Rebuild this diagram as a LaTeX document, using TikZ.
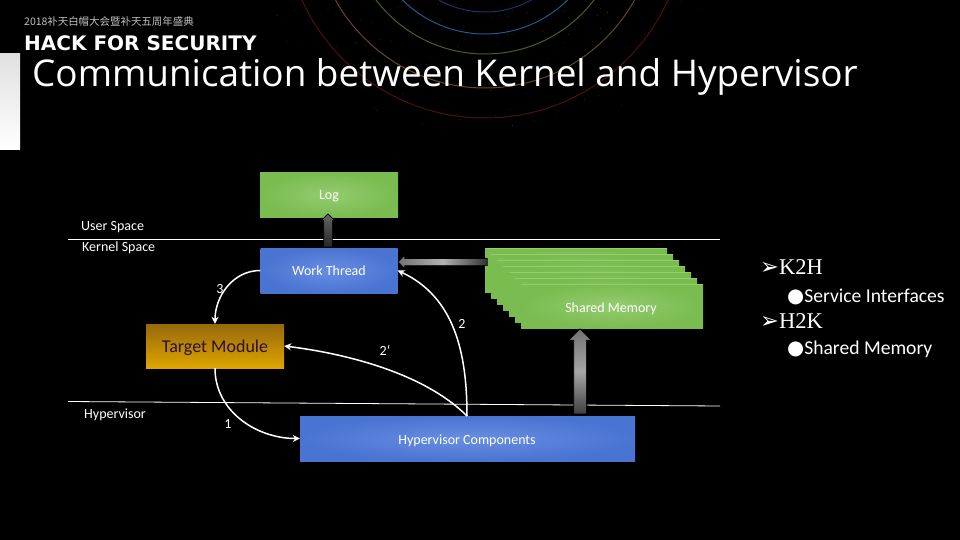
\documentclass[tikz,border=0pt]{standalone}
\usepackage{fontspec}
\setmainfont{Carlito}
\newfontfamily\titlefont{Open Sans}
\newfontfamily\bannerfont{DejaVu Sans}
\newfontfamily\cjkfont{Noto Sans CJK SC}
\newfontfamily\serifpart{Liberation Serif}
\usetikzlibrary{
  arrows.meta,
  shapes.arrows,
  calc,
  positioning
}
\definecolor{boxgreen}{RGB}{122,188,80}
\definecolor{boxgreenlt}{RGB}{148,204,112}
\definecolor{boxblue}{RGB}{74,116,210}
\definecolor{boxbluelt}{RGB}{104,142,226}
\definecolor{targettop}{RGB}{150,105,10}
\definecolor{targetbot}{RGB}{222,165,0}
\definecolor{targetink}{RGB}{45,15,40}
\definecolor{arcred}{RGB}{75,18,15}
\definecolor{arcorange}{RGB}{100,72,30}
\definecolor{arcgreen}{RGB}{68,98,40}
\definecolor{arcblue}{RGB}{30,92,140}
\definecolor{arcdeep}{RGB}{25,50,115}
\newcommand{\markarrow}{{\bannerfont ➢}}
\newcommand{\markdot}{{\bannerfont ●}}
\begin{document}
\begin{tikzpicture}[
      x=1pt,y=-1pt,
      >={Stealth[length=7pt,width=7pt]},
      greenbox/.style={
         rectangle,
         inner sep=0pt,
         draw=none,
         inner color=boxgreenlt,
         outer color=boxgreen,
         text=white,
         font=\fontsize{14}{16}\selectfont,
      },
      bluebox/.style={
         rectangle,
         inner sep=0pt,
         inner color=boxbluelt,
         outer color=boxblue,
         text=white,
         font=\fontsize{14}{16}\selectfont,
      },
      targetbox/.style={
         rectangle,
         inner sep=0pt,
         top color=targettop,
         bottom color=targetbot,
         font=\fontsize{18}{20}\selectfont,
      },
      plainlabel/.style={
         text=white,
         inner sep=0pt,
         font=\fontsize{14}{16}\selectfont,
      },
      sidelabel/.style={
         text=white,
         inner sep=0pt,
         anchor=west,
      },
      flow/.style={->,white,line width=1.5pt},
      spaceline/.style={white,line width=0.8pt},
      greyarrow/.style={
         single arrow,
         draw=black,
         line width=0.6pt,
         shape border rotate=#1,
      },
      arcline/.style={line width=1pt,draw=#1},
    ]
    \fill[black] (0,0) rectangle (960,540);
    % arcs behind the title
    \begin{scope}
      \clip (0,0) rectangle (960,130);
      \pgfmathsetseed{3}
      \foreach \n in {1,...,500} {
        \pgfmathsetmacro{\ang}{rnd*360}
        \pgfmathsetmacro{\rad}{70+rnd*170}
        \fill[black!72] ($(485,-83)+(\ang:\rad)$) circle (0.35);
      }
      \draw[arcline=arcred] (485,-83) circle (201);
      \draw[arcline=arcorange] (485,-83) circle (171);
      \draw[arcline=arcgreen] (485,-83) circle (137);
      \draw[arcline=arcblue] (485,-83) circle (117);
      \draw[arcline=arcdeep] (485,-83) circle (95);
    \end{scope}
    \shade[top color=black!12,bottom color=white] (0,54) rectangle (20,150);

    \node (event) [anchor=west,text=white!75!black,inner sep=0pt,font=\cjkfont\fontsize{10.45}{13}\selectfont] at (24,22) {2018补天白帽大会暨补天五周年盛典};
    \node (slogan) [anchor=west,text=white,inner sep=0pt,font=\bannerfont\bfseries\fontsize{20}{22}\selectfont] at (24,43.5) {HACK FOR SECURITY};
    \node (title) [anchor=west,text=white,inner sep=0pt,font=\titlefont\fontsize{36.9}{40}\selectfont] at (32,76.5) {Communication between Kernel and Hypervisor};

    \node (log) [greenbox,minimum width=138pt,minimum height=44pt] at (329,195) {};
    \node (logtext) [plainlabel] at (329,196.5) {Log};
    \node (thread) [bluebox,minimum width=137pt,minimum height=45pt] at (329,270.5) {};
    \node (threadtext) [plainlabel] at (329,271) {Work Thread};
    \node (target) [targetbox,minimum width=138pt,minimum height=44pt] at (215,346) {};
    \node (targettext) [inner sep=0pt,text=targetink,font=\fontsize{18}{20}\selectfont] at (215,347.5) {Target Module};
    \node (hyper) [bluebox,minimum width=335pt,minimum height=45pt] at (467.5,438.5) {};
    \node (hypertext) [plainlabel] at (467,440.5) {Hypervisor Components};

    % stacked pages of shared memory
    \foreach \i in {0,...,6} {
      \node (page\i) [greenbox,minimum width=182pt,minimum height=44pt] at ({576+6*\i},{270+6*\i}) {};
      \draw[boxgreenlt,line width=0.5pt] (page\i.north west) -- (page\i.north east);
    }
    \node (memtext) [plainlabel] at (611,308.5) {Shared Memory};

    \coordinate (ustart) at (68,239.5);
    \coordinate (uend) at (720,239.5);
    \coordinate (hstart) at (68,401.5);
    \coordinate (hend) at (720,406);
    \draw[spaceline] (ustart) -- (uend);
    \draw[spaceline] (hstart) -- (hend);

    \node (userspace) [plainlabel,anchor=west] at (81,227) {User Space};
    \node (kernelspace) [plainlabel,anchor=west] at (82,248) {Kernel Space};
    \node (hvlabel) [plainlabel,anchor=west] at (84,414.5) {Hypervisor};

    % grey block arrows
    \node (uparrow) [greyarrow=90,inner sep=4pt,minimum height=33pt,single arrow head extend=2.5pt,
       top color=black!60,bottom color=black!85] at (328,232.5) {};
    \node (leftarrow) [greyarrow=180,inner sep=3.25pt,minimum height=89pt,single arrow head extend=3pt,
       left color=black!55,right color=black!80,middle color=black!30] at (444.5,262) {};
    \node (memarrow) [greyarrow=90,inner sep=6pt,minimum height=85pt,single arrow head extend=5pt,
       top color=black!55,bottom color=black!75,middle color=black!35] at (580,374.5) {};

    % numbered flows
    \coordinate (hv top) at (467,416);
    \draw[flow] (thread.west) to[out=180,in=90] (target.north);
    \draw[flow] (target.south) to[out=-90,in=180] (hyper.west);
    \draw[flow] (hv top) to[out=90,in=-25] (thread.east);
    \draw[flow] (hv top) to[out=135,in=-7,looseness=0.8] (target.east);

    \node (num3) [plainlabel] at (220,289) {3};
    \node (num2) [plainlabel] at (462,324) {2};
    \node (num2b) [plainlabel] at (385,350) {2`};
    \node (num1) [plainlabel] at (228,424) {1};

    \node (k2h) [sidelabel,font=\serifpart\fontsize{22.5}{24}\selectfont] at (760,267) {\markarrow K2H};
    \node (services) [sidelabel,font=\fontsize{19.6}{22}\selectfont] at (787,296.5) {\markdot Service Interfaces};
    \node (h2k) [sidelabel,font=\serifpart\fontsize{22.5}{24}\selectfont] at (760,321) {\markarrow H2K};
    \node (sharedm) [sidelabel,font=\fontsize{19.6}{22}\selectfont] at (787,349.5) {\markdot Shared Memory};
\end{tikzpicture}
\end{document}
